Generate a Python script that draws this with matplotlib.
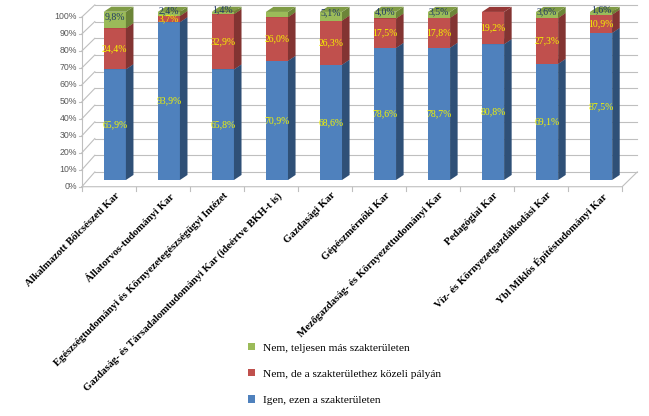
import matplotlib
matplotlib.use("Agg")
import matplotlib.pyplot as plt
from matplotlib.patches import Patch
import numpy as np

categories = [
    "Alkalmazott Bölcsészeti Kar",
    "Állatorvos-tudományi Kar",
    "Egészségtudományi és Környezetegészségügyi Intézet",
    "Gazdaság- és Társadalomtudományi Kar (ideértve BKH-t is)",
    "Gazdasági Kar",
    "Gépészmérnöki Kar",
    "Mezőgazdaság- és Környezettudományi Kar",
    "Pedagógiai Kar",
    "Víz- és Környezetgazdálkodási Kar",
    "Ybl Miklós Építéstudományi Kar",
]
igen = [65.9, 93.9, 65.8, 70.9, 68.6, 78.6, 78.7, 80.8, 69.1, 87.5]
kozeli = [24.4, 3.7, 32.9, 26.0, 26.3, 17.5, 17.8, 19.2, 27.3, 10.9]
mas = [9.8, 2.4, 1.4, 3.1, 5.1, 4.0, 3.5, 0.0, 3.6, 1.6]
mas_label_shown = [True, True, True, False, True, True, True, False, True, True]
series_names = ["Igen, ezen a szakterületen",
                "Nem, de a szakterülethez közeli pályán",
                "Nem, teljesen más szakterületen"]
ytick_values = list(range(0, 101, 10))

front_cols = ["#4F81BD", "#C0504D", "#9BBB59"]
side_cols = ["#2F5077", "#833432", "#6C8538"]
top_cols = ["#3D6696", "#953735", "#7F9C45"]
label_cols = ["#F5F500", "#F5F500", "#1F3864"]

W, H = 649, 416
fig = plt.figure(figsize=(W / 100, H / 100), dpi=100)
ax = fig.add_axes([77 / W, (H - 200) / H, (647 - 77) / W, 200 / H])
ax.set_xlim(-0.7, 9.85)
ax.set_ylim(-11.9, 107.1)
ax.axis("off")

grid_c = "#BFBFBF"
xf_left, xb_left = -0.61, -0.37
xf_right, xb_right = 9.39, 9.67
back_off = 4.8
front_off = -4.0

def yb(v):
    return v * 0.994 + back_off

def yf(v):
    return v * 1.01 + front_off

# back wall gridlines and left wall
for v in ytick_values:
    ax.plot([xb_left, xb_right], [yb(v), yb(v)], color=grid_c, lw=0.8, zorder=1)
    ax.plot([xf_left, xb_left], [yf(v), yb(v)], color=grid_c, lw=0.8, zorder=1)
    ax.plot([xf_left - 0.06, xf_left], [yf(v), yf(v)], color=grid_c, lw=0.8, zorder=1)
    ax.text(xf_left - 0.09, yf(v), f"{v}%", ha="right", va="center",
            fontsize=6.3, color="#595959", family="Liberation Sans")
ax.plot([xf_left, xf_left], [yf(0), yf(100)], color=grid_c, lw=0.8, zorder=1)
# floor
ax.plot([xf_left, xf_right, xb_right], [front_off, front_off, yb(0)],
        color=grid_c, lw=0.8, zorder=1)
for k in range(len(categories) + 1):
    tx = k - 0.61
    ax.plot([tx, tx], [front_off, front_off - 2.4], color=grid_c, lw=0.8, zorder=1)

w, dx, dy = 0.41, 0.14, 3.0
x = np.arange(len(categories))
series = [igen, kozeli, mas]
bottoms = np.zeros(len(categories))
for s, vals in enumerate(series):
    vals = np.array(vals)
    ax.bar(x, vals, width=w, bottom=bottoms, color=front_cols[s], zorder=3,
           linewidth=0)
    for i in range(len(categories)):
        if vals[i] <= 0:
            continue
        b, t = bottoms[i], bottoms[i] + vals[i]
        xr, xl = x[i] + w / 2, x[i] - w / 2
        ax.fill([xr, xr + dx, xr + dx, xr], [b, b + dy, t + dy, t],
                color=side_cols[s], zorder=3, lw=0)
        ax.fill([xl, xl + dx, xr + dx, xr], [t, t + dy, t + dy, t],
                color=top_cols[s], zorder=3, lw=0)
        show = mas_label_shown[i] if s == 2 else True
        if show:
            ax.text(x[i], (b + t) / 2 + (2.0 if s == 2 else 0), f"{vals[i]:.1f}%".replace(".", ","),
                    ha="center", va="center", fontsize=7, color=label_cols[s],
                    family="Liberation Serif", zorder=5)
    bottoms = bottoms + vals

for i, c in enumerate(categories):
    ax.text(x[i] + 0.0, -6.5, c, rotation=45, rotation_mode="anchor",
            ha="right", va="top", fontsize=7.7, fontweight="bold",
            family="Liberation Serif", clip_on=False)

handles = [Patch(facecolor=front_cols[s], edgecolor="none") for s in (2, 1, 0)]
labels = [series_names[s] for s in (2, 1, 0)]
fig.legend(handles, labels, loc="upper left",
           bbox_to_anchor=(248 / W, 1 - 343 / H), frameon=False,
           prop={"family": "Liberation Serif", "size": 8.2},
           handlelength=0.6, handleheight=0.6, handletextpad=0.7,
           labelspacing=1.45, borderaxespad=0, borderpad=0)

fig.savefig("out.png", dpi=100)
